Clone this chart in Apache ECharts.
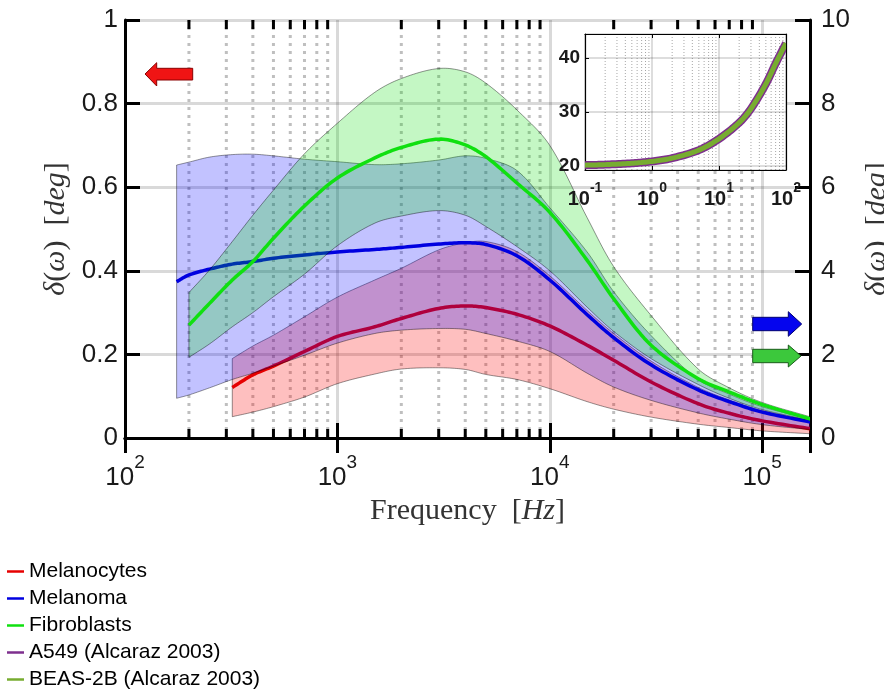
<!DOCTYPE html>
<html>
<head>
<meta charset="utf-8">
<script src="https://cdn.jsdelivr.net/npm/echarts@6/dist/echarts.min.js"></script>
<style>
  html, body { margin: 0; padding: 0; background: #fff; }
  #chart { width: 884px; height: 692px; }
</style>
</head>
<body>
<div id="chart"></div>
<script>
// Melanocytes, left axis (deg)
var freqMelanocytes = [320, 400, 500, 700, 1000, 1500, 2000, 3000, 4000, 5000, 7000, 10000, 15000, 20000, 30000, 50000, 70000, 100000, 170000];
var melanocytesMean = [0.121, 0.151, 0.172, 0.207, 0.243, 0.266, 0.286, 0.310, 0.316, 0.312, 0.296, 0.268, 0.222, 0.186, 0.134, 0.082, 0.059, 0.041, 0.022];
var melanocytesUpper = [0.190, 0.220, 0.246, 0.290, 0.337, 0.378, 0.406, 0.450, 0.467, 0.470, 0.446, 0.388, 0.305, 0.250, 0.184, 0.121, 0.091, 0.065, 0.040];
var melanocytesLower = [0.051, 0.062, 0.075, 0.098, 0.130, 0.153, 0.165, 0.168, 0.164, 0.152, 0.140, 0.118, 0.087, 0.069, 0.050, 0.033, 0.025, 0.017, 0.010];

// Melanoma, right axis (deg)
var freqMelanoma = [175, 200, 250, 320, 400, 500, 700, 1000, 1500, 2000, 3000, 4000, 5000, 7000, 10000, 15000, 20000, 30000, 50000, 70000, 100000, 170000];
var melanomaMean = [3.74, 3.90, 4.04, 4.16, 4.22, 4.30, 4.38, 4.45, 4.51, 4.56, 4.64, 4.67, 4.63, 4.36, 3.78, 2.95, 2.40, 1.75, 1.15, 0.87, 0.62, 0.38];
var melanomaUpper = [6.53, 6.60, 6.72, 6.78, 6.79, 6.75, 6.67, 6.61, 6.54, 6.56, 6.65, 6.75, 6.69, 6.40, 5.51, 4.45, 3.50, 2.45, 1.40, 1.05, 0.75, 0.45];
var melanomaLower = [0.95, 1.03, 1.20, 1.40, 1.55, 1.72, 1.98, 2.27, 2.50, 2.58, 2.62, 2.60, 2.50, 2.32, 2.07, 1.55, 1.22, 0.90, 0.60, 0.45, 0.32, 0.20];

// Fibroblasts, right axis (deg)
var freqFibroblasts = [200, 250, 320, 400, 500, 700, 1000, 1500, 2000, 3000, 4000, 5000, 7000, 10000, 15000, 20000, 30000, 50000, 70000, 100000, 170000];
var fibroblastsMean = [2.70, 3.22, 3.78, 4.22, 4.78, 5.55, 6.22, 6.70, 6.95, 7.15, 7.01, 6.73, 6.10, 5.40, 4.25, 3.33, 2.22, 1.42, 1.10, 0.80, 0.45];
var fibroblastsUpper = [3.48, 4.02, 4.70, 5.33, 5.93, 6.80, 7.53, 8.27, 8.60, 8.84, 8.76, 8.49, 7.85, 7.00, 5.27, 4.10, 2.93, 1.65, 1.20, 0.85, 0.50];
var fibroblastsLower = [1.93, 2.25, 2.66, 3.00, 3.38, 3.92, 4.60, 5.14, 5.31, 5.44, 5.33, 5.06, 4.58, 4.00, 3.13, 2.55, 1.90, 1.28, 0.95, 0.68, 0.42];

// inset (Alcaraz 2003)
var freqInset = [0.1, 0.2, 0.5, 1, 2, 5, 10, 20, 30, 50, 70, 100];
var a549 = [20.1, 20.2, 20.45, 20.8, 21.4, 22.9, 25.0, 28.0, 30.6, 35.2, 39.0, 42.8];
var beas2b = [20.1, 20.2, 20.45, 20.8, 21.4, 22.9, 25.0, 28.0, 30.6, 35.2, 39.0, 42.8];

// ticks
var mainXTicks = [100, 1000, 10000, 100000];
var mainXTickExp = ['2', '3', '4', '5'];
var mainXMinor = [200, 300, 400, 500, 600, 700, 800, 900, 2000, 3000, 4000, 5000, 6000, 7000, 8000, 9000,
                  20000, 30000, 40000, 50000, 60000, 70000, 80000, 90000];
var leftYTicks = ['0', '0.2', '0.4', '0.6', '0.8', '1'];
var rightYTicks = ['0', '2', '4', '6', '8', '10'];
var insetXTicks = [0.1, 1, 10, 100];
var insetXTickExp = ['-1', '0', '1', '2'];
var insetXMinor = [0.2, 0.3, 0.4, 0.5, 0.6, 0.7, 0.8, 0.9, 2, 3, 4, 5, 6, 7, 8, 9, 20, 30, 40, 50, 60, 70, 80, 90];
var insetYTicks = [20, 30, 40];

var LABEL = '#1a1a1a';
var SANS = 'Liberation Sans';
var SERIF = 'Liberation Serif';

function expLabel(ticks, exps) {
  return function (v) {
    for (var i = 0; i < ticks.length; i++) {
      if (Math.abs(Math.log10(v) - Math.log10(ticks[i])) < 0.01) return '{b|10}{s|' + exps[i] + '}';
    }
    return '';
  };
}

// smooth curve through pixel points (chord-length catmull-rom, drawn as bezier samples)
function spline(p) {
  var n = p.length, i, k;
  if (n < 3) return p;
  var d = [];
  for (i = 0; i < n - 1; i++) d.push(Math.hypot(p[i + 1][0] - p[i][0], p[i + 1][1] - p[i][1]) || 1e-6);
  var T = [];
  for (i = 0; i < n; i++) {
    var a = p[Math.max(i - 1, 0)], b = p[Math.min(i + 1, n - 1)];
    var L = (i > 0 ? d[i - 1] : 0) + (i < n - 1 ? d[i] : 0);
    T.push([(b[0] - a[0]) / L, (b[1] - a[1]) / L]);
  }
  var out = [];
  for (i = 0; i < n - 1; i++) {
    var c1 = [p[i][0] + T[i][0] * d[i] / 3, p[i][1] + T[i][1] * d[i] / 3];
    var c2 = [p[i + 1][0] - T[i + 1][0] * d[i] / 3, p[i + 1][1] - T[i + 1][1] * d[i] / 3];
    for (k = 0; k < 12; k++) {
      var t = k / 12, m = 1 - t;
      out.push([
        m * m * m * p[i][0] + 3 * m * m * t * c1[0] + 3 * m * t * t * c2[0] + t * t * t * p[i + 1][0],
        m * m * m * p[i][1] + 3 * m * m * t * c1[1] + 3 * m * t * t * c2[1] + t * t * t * p[i + 1][1]
      ]);
    }
  }
  out.push(p[n - 1]);
  return out;
}

function bandSeries(name, xs, lo, hi, fill, yIdx) {
  return {
    name: name, type: 'custom', xAxisIndex: 0, yAxisIndex: yIdx, z: 2, silent: true, clip: true,
    data: [[xs[0], lo[0]]],
    encode: { x: 0, y: 1 },
    renderItem: function (params, api) {
      var up = xs.map(function (x, i) { return api.coord([x, hi[i]]); });
      var dn = xs.map(function (x, i) { return api.coord([x, lo[i]]); }).reverse();
      return {
        type: 'polygon', shape: { points: spline(up).concat(spline(dn)) },
        style: { fill: fill, stroke: 'rgba(0,0,0,0.7)', lineWidth: 0.6 }
      };
    }
  };
}

function curveSeries(name, xs, ys, color, width, xIdx, yIdx, z) {
  return {
    name: name, type: 'custom', xAxisIndex: xIdx, yAxisIndex: yIdx, z: z, silent: true, clip: true,
    itemStyle: { color: color },
    data: [[xs[0], ys[0]]],
    encode: { x: 0, y: 1 },
    renderItem: function (params, api) {
      var pts = xs.map(function (x, i) { return api.coord([x, ys[i]]); });
      return {
        type: 'polyline', shape: { points: spline(pts) },
        style: { stroke: color, lineWidth: width, fill: null, lineJoin: 'round', lineCap: 'butt' }
      };
    }
  };
}

function minorGrid(xIdx, yIdx, values, y0, y1, style, z) {
  return {
    type: 'custom', xAxisIndex: xIdx, yAxisIndex: yIdx, z: z, silent: true,
    data: values.map(function (v) { return [v, y0]; }),
    encode: { x: 0, y: 1 },
    renderItem: function (params, api) {
      var a = api.coord([api.value(0), y0]);
      var b = api.coord([api.value(0), y1]);
      return { type: 'line', shape: { x1: a[0], y1: a[1], x2: b[0], y2: b[1] }, style: style };
    }
  };
}

function minorTicks(xIdx, yIdx, values, y0, y1, len, width, z) {
  return {
    type: 'custom', xAxisIndex: xIdx, yAxisIndex: yIdx, z: z, silent: true,
    data: values.map(function (v) { return [v, y0]; }),
    encode: { x: 0, y: 1 },
    renderItem: function (params, api) {
      var a = api.coord([api.value(0), y0]);
      var b = api.coord([api.value(0), y1]);
      var st = { stroke: '#000', lineWidth: width };
      return {
        type: 'group', children: [
          { type: 'line', shape: { x1: a[0], y1: a[1], x2: a[0], y2: a[1] - len }, style: st },
          { type: 'line', shape: { x1: b[0], y1: b[1], x2: b[0], y2: b[1] + len }, style: st }
        ]
      };
    }
  };
}

var axisLine3 = { show: true, lineStyle: { color: '#000', width: 3 } };
var tick3 = { show: true, inside: true, length: 15, lineStyle: { color: '#000', width: 3 } };
var mainLabel = { color: LABEL, fontFamily: SANS, fontSize: 26 };
var nameRich = {
  i: { fontFamily: SERIF, fontStyle: 'italic', fontSize: 30, color: '#333' },
  r: { fontFamily: SERIF, fontSize: 30, color: '#333' }
};
var yName = '{i|δ}{r|(}{i|ω}{r|)  [}{i|deg}{r|]}';
var insetLine = { show: true, lineStyle: { color: '#000', width: 1.2 } };
var insetTick = { show: true, inside: true, length: 4, lineStyle: { color: '#000', width: 1 } };

var chart = echarts.init(document.getElementById('chart'));

var option = {
  animation: false,
  backgroundColor: '#fff',
  grid: [
    { left: 125, top: 20, width: 685, height: 418, outerBoundsMode: 'none' },
    { left: 585, top: 34, width: 201, height: 136, show: true, backgroundColor: '#fff', borderWidth: 0, z: 3, outerBoundsMode: 'none' }
  ],
  xAxis: [
    {
      type: 'log', gridIndex: 0, min: 100, max: 168000, logBase: 10, position: 'bottom',
      axisLine: axisLine3, axisTick: tick3,
      axisLabel: {
        margin: 15, formatter: expLabel(mainXTicks, mainXTickExp),
        rich: {
          b: { fontFamily: SANS, fontSize: 26, color: LABEL, lineHeight: 38, verticalAlign: 'bottom' },
          s: { fontFamily: SANS, fontSize: 19, color: LABEL, lineHeight: 19, verticalAlign: 'top' }
        }
      },
      splitLine: { show: true, lineStyle: { color: 'rgba(0,0,0,0.15)', width: 3 } },
      name: '{r|Frequency  [}{i|Hz}{r|]}', nameLocation: 'middle', nameGap: 58,
      nameTextStyle: { rich: nameRich }
    },
    {
      type: 'log', gridIndex: 0, min: 100, max: 168000, logBase: 10, position: 'top',
      axisLine: axisLine3, axisTick: tick3, axisLabel: { show: false }, splitLine: { show: false }
    },
    {
      type: 'log', gridIndex: 1, min: 0.1, max: 100, logBase: 10, position: 'bottom', z: 4,
      axisLine: insetLine, axisTick: insetTick,
      axisLabel: {
        margin: 11, formatter: expLabel(insetXTicks, insetXTickExp),
        rich: {
          b: { fontFamily: SANS, fontWeight: 'bold', fontSize: 20, color: LABEL, lineHeight: 28, verticalAlign: 'bottom' },
          s: { fontFamily: SANS, fontWeight: 'bold', fontSize: 14, color: LABEL, lineHeight: 14, verticalAlign: 'top' }
        }
      },
      splitLine: { show: true, lineStyle: { color: 'rgba(0,0,0,0.18)', width: 1.5 } }
    },
    {
      type: 'log', gridIndex: 1, min: 0.1, max: 100, logBase: 10, position: 'top', z: 4,
      axisLine: insetLine, axisTick: insetTick, axisLabel: { show: false }, splitLine: { show: false }
    }
  ],
  yAxis: [
    {
      type: 'value', gridIndex: 0, min: 0, max: 1, interval: 0.2, position: 'left',
      axisLine: axisLine3, axisTick: tick3,
      axisLabel: Object.assign({ margin: 7, formatter: function (v) { return leftYTicks[Math.round(v / 0.2)]; } }, mainLabel),
      splitLine: { show: true, lineStyle: { color: 'rgba(0,0,0,0.15)', width: 3 } },
      name: yName, nameLocation: 'middle', nameGap: 53, nameTextStyle: { rich: nameRich }
    },
    {
      type: 'value', gridIndex: 0, min: 0, max: 10, interval: 2, position: 'right',
      axisLine: axisLine3, axisTick: tick3,
      axisLabel: Object.assign({ margin: 11, formatter: function (v) { return rightYTicks[Math.round(v / 2)]; } }, mainLabel),
      splitLine: { show: false },
      name: yName, nameLocation: 'middle', nameGap: 52, nameTextStyle: { rich: nameRich }
    },
    {
      type: 'value', gridIndex: 1, min: 19.2, max: 44.5, splitNumber: 3, position: 'left', z: 4,
      axisLine: insetLine, axisTick: insetTick,
      axisLabel: {
        margin: 5, fontFamily: SANS, fontWeight: 'bold', fontSize: 19, color: LABEL,
        formatter: function (v) { return insetYTicks.indexOf(Math.round(v * 10) / 10) >= 0 ? String(v) : ''; }
      },
      splitLine: { show: true, lineStyle: { color: 'rgba(0,0,0,0.18)', width: 1.5 } }
    },
    {
      type: 'value', gridIndex: 1, min: 19.2, max: 44.5, splitNumber: 3, position: 'right', z: 4,
      axisLine: insetLine, axisTick: { show: false }, axisLabel: { show: false }, splitLine: { show: false }
    }
  ],
  legend: {
    orient: 'vertical', left: 7, top: 561, padding: 0, itemWidth: 17, itemHeight: 2.5, itemGap: 6, icon: 'rect',
    selectedMode: false, height: 140,
    textStyle: { fontFamily: SANS, fontSize: 21, color: '#000' },
    data: ['Melanocytes', 'Melanoma', 'Fibroblasts', 'A549 (Alcaraz 2003)', 'BEAS-2B (Alcaraz 2003)']
  },
  graphic: [
    { type: 'polygon', z: 100, shape: { points: [[145, 74], [156.7, 62.7], [156.7, 68.3], [192.7, 68.3], [192.7, 80], [156.7, 80], [156.7, 86]] },
      style: { fill: '#f01414', stroke: '#8a0000', lineWidth: 1 } },
    { type: 'polygon', z: 100, shape: { points: [[752.7, 317.3], [788.3, 317.3], [788.3, 311.7], [801.7, 324], [788.3, 336.3], [788.3, 330.7], [752.7, 330.7]] },
      style: { fill: '#0505ee', stroke: '#000070', lineWidth: 1 } },
    { type: 'polygon', z: 100, shape: { points: [[752.7, 349.3], [788.3, 349.3], [788.3, 345], [801, 356], [788.3, 367], [788.3, 362.7], [752.7, 362.7]] },
      style: { fill: '#3cc83c', stroke: '#1a5c1a', lineWidth: 1 } }
  ],
  series: [
    minorGrid(0, 0, mainXMinor, 0, 1, { stroke: 'rgba(0,0,0,0.25)', lineWidth: 3, lineDash: [3, 5] }, 1),
    minorTicks(0, 0, mainXMinor, 0, 1, 9, 3, 6),
    bandSeries('band-melanocytes', freqMelanocytes, melanocytesLower, melanocytesUpper, 'rgba(250,0,0,0.25)', 0),
    curveSeries('Melanocytes', freqMelanocytes, melanocytesMean, '#e60000', 3.5, 0, 0, 2),
    bandSeries('band-melanoma', freqMelanoma, melanomaLower, melanomaUpper, 'rgba(0,0,255,0.24)', 1),
    curveSeries('Melanoma', freqMelanoma, melanomaMean, '#0000e0', 3.5, 0, 1, 2),
    bandSeries('band-fibroblasts', freqFibroblasts, fibroblastsLower, fibroblastsUpper, 'rgba(0,220,0,0.23)', 1),
    curveSeries('Fibroblasts', freqFibroblasts, fibroblastsMean, '#10e010', 3.5, 0, 1, 2),
    minorGrid(2, 2, insetXMinor, 19.2, 44.5, { stroke: 'rgba(0,0,0,0.35)', lineWidth: 1, lineDash: [1, 2] }, 4),
    curveSeries('A549 (Alcaraz 2003)', freqInset, a549, '#7e2f8e', 8, 2, 2, 5),
    curveSeries('BEAS-2B (Alcaraz 2003)', freqInset, beas2b, '#77ac30', 5, 2, 2, 6)
  ]
};

chart.setOption(option);
</script>
</body>
</html>
